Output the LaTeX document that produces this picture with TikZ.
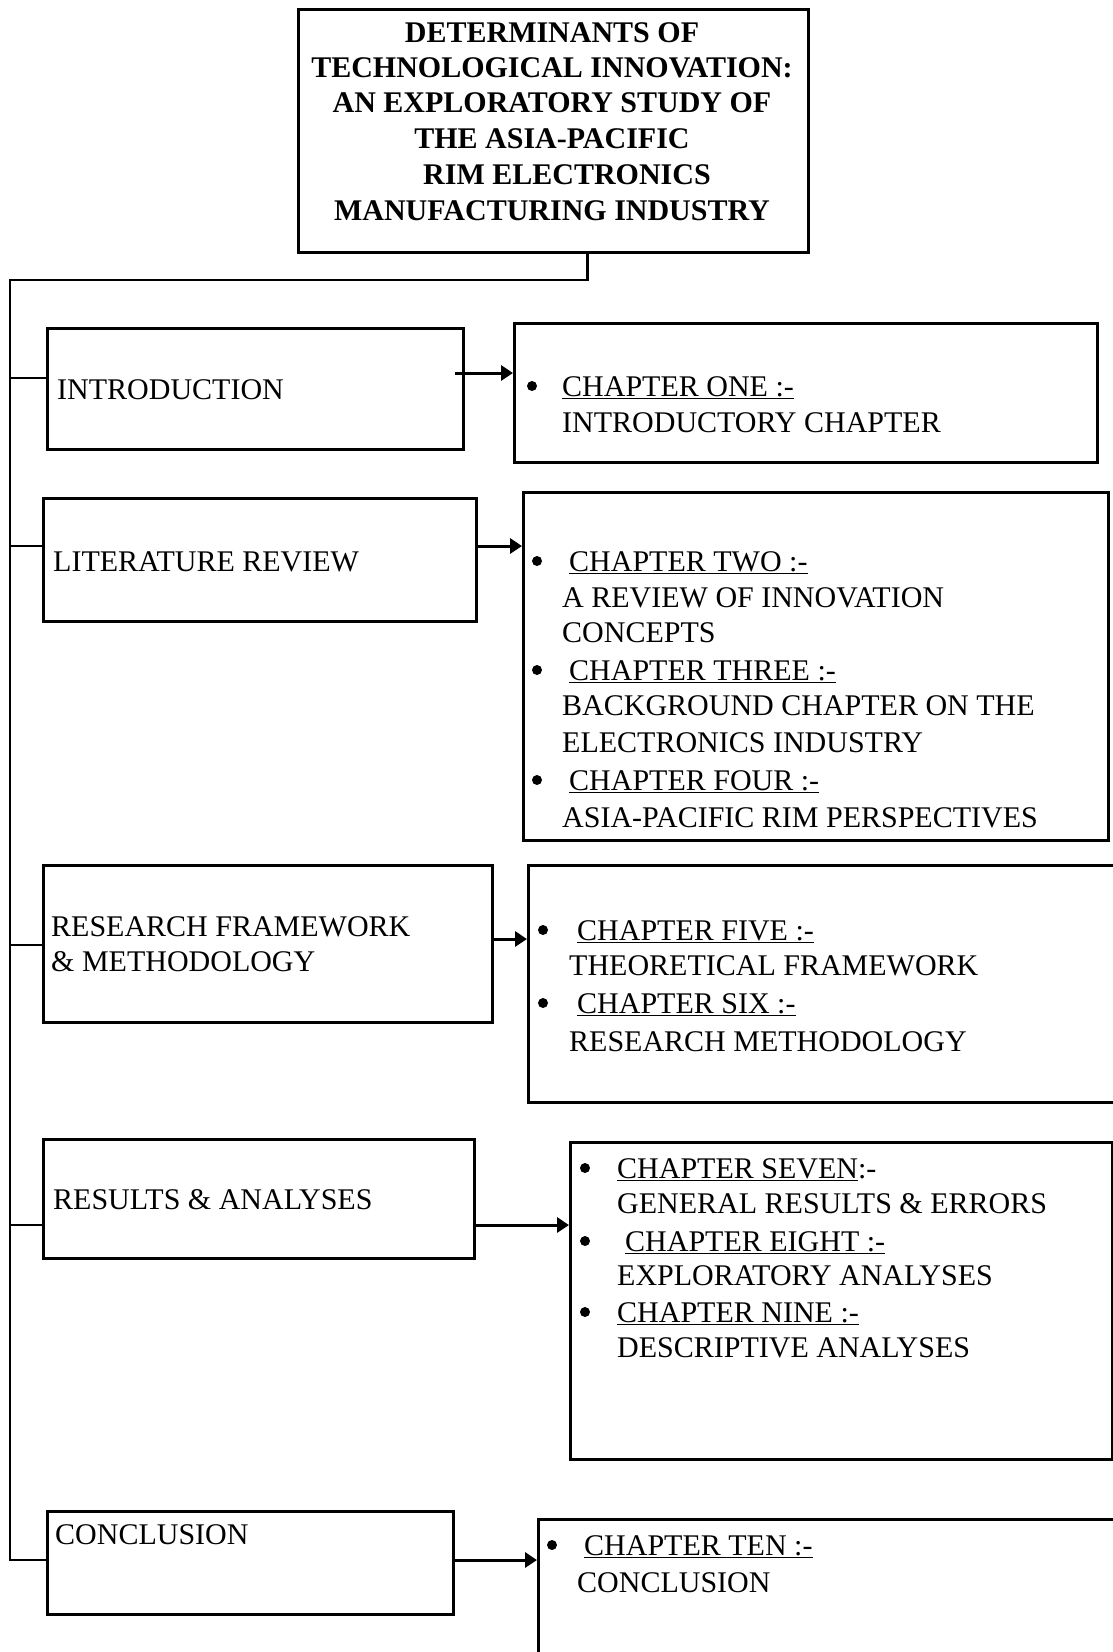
\documentclass[tikz,border=0pt]{standalone}
\usepackage{fontspec}
\setmainfont{Liberation Serif}
\usetikzlibrary{arrows.meta}
\begin{document}
\begin{tikzpicture}[x=1pt,y=-1pt,
  box/.style={draw, line width=3pt, anchor=north west, inner sep=0pt},
  txt/.style={anchor=base west, inner sep=0pt, font=\fontsize{30}{36}\selectfont},
  ttl/.style={anchor=base, inner sep=0pt, font=\fontsize{30}{36}\selectfont\bfseries},
  bul/.style={circle, fill, inner sep=0pt, minimum size=10pt},
  link/.style={line width=2.6pt},
  arr/.style={line width=3pt, -{Triangle[length=12pt,width=15pt]}}]
\useasboundingbox (0,0) rectangle (1113,1652);

% title box and its text
\node[box, minimum width=510pt, minimum height=243pt] (title) at (297,8) {};
\foreach \t/\xx/\yy [count=\i] in {
  DETERMINANTS OF/552/42,
  TECHNOLOGICAL INNOVATION:/552/77,
  AN EXPLORATORY STUDY OF/552/112,
  THE ASIA-PACIFIC/552/148,
  RIM ELECTRONICS/567/184,
  MANUFACTURING INDUSTRY/552/220}
  \node[ttl] (tl\i) at (\xx,\yy) {\t};

% section boxes (left) and chapter boxes (right)
\node[box, minimum width=416pt, minimum height=121pt] (intro) at (46,327) {};
\node[box, minimum width=583pt, minimum height=139pt] (r1) at (513,322) {};
\node[box, minimum width=433pt, minimum height=123pt] (lit) at (42,497) {};
\node[box, minimum width=585pt, minimum height=348pt] (r2) at (522,491) {};
\node[box, minimum width=449pt, minimum height=157pt] (res) at (42,864) {};
\node[box, minimum width=600pt, minimum height=237pt] (r3) at (527,864) {};
\node[box, minimum width=431pt, minimum height=119pt] (rea) at (42,1138) {};
\node[box, minimum width=542pt, minimum height=317pt] (r4) at (569,1141) {};
\node[box, minimum width=406pt, minimum height=103pt] (con) at (46,1510) {};
\node[box, minimum width=590pt, minimum height=150pt] (r5) at (537,1518) {};

% section labels
\node[txt] (s1) at (57,399) {INTRODUCTION};
\node[txt] (s2) at (53,571) {LITERATURE REVIEW};
\node[txt] (s3a) at (51,936) {RESEARCH FRAMEWORK};
\node[txt] (s3b) at (51,971) {\&\ METHODOLOGY};
\node[txt] (s4) at (53,1209) {RESULTS \&\ ANALYSES};
\node[txt] (s5) at (55,1544) {CONCLUSION};

% chapter lists
\foreach \xx/\yy [count=\i] in {532/386, 537/561, 537/670, 537/780,
    543/930, 543/1003, 585/1168, 585/1241, 585/1312, 552/1545}
  \node[bul] (d\i) at (\xx,\yy) {};

\node[txt] (c1a) at (562,396) {\underline{CHAPTER ONE :-}};
\node[txt] (c1b) at (562,432) {INTRODUCTORY CHAPTER};

\node[txt] (c2a) at (569,571) {\underline{CHAPTER TWO :-}};
\node[txt] (c2b) at (562,607) {A REVIEW OF INNOVATION};
\node[txt] (c2c) at (562,642) {CONCEPTS};
\node[txt] (c3a) at (569,680) {\underline{CHAPTER THREE :-}};
\node[txt] (c3b) at (562,715) {BACKGROUND CHAPTER ON THE};
\node[txt] (c3c) at (562,752) {ELECTRONICS INDUSTRY};
\node[txt] (c4a) at (569,790) {\underline{CHAPTER FOUR :-}};
\node[txt] (c4b) at (562,827) {ASIA-PACIFIC RIM PERSPECTIVES};

\node[txt] (c5a) at (577,940) {\underline{CHAPTER FIVE :-}};
\node[txt] (c5b) at (569,975) {THEORETICAL FRAMEWORK};
\node[txt] (c6a) at (577,1013) {\underline{CHAPTER SIX :-}};
\node[txt] (c6b) at (569,1051) {RESEARCH METHODOLOGY};

\node[txt] (c7a) at (617,1178) {\underline{CHAPTER SEVEN}:-};
\node[txt] (c7b) at (617,1213) {GENERAL RESULTS \&\ ERRORS};
\node[txt] (c8a) at (625,1251) {\underline{CHAPTER EIGHT :-}};
\node[txt] (c8b) at (617,1285) {EXPLORATORY ANALYSES};
\node[txt] (c9a) at (617,1322) {\underline{CHAPTER NINE :-}};
\node[txt] (c9b) at (617,1357) {DESCRIPTIVE ANALYSES};

\node[txt] (c10a) at (584,1555) {\underline{CHAPTER TEN :-}};
\node[txt] (c10b) at (577,1592) {CONCLUSION};

% trunk line from the title down the left side
\coordinate (tk) at (10,280);
\coordinate (b1) at (10,378);
\coordinate (b2) at (10,546);
\coordinate (b3) at (10,945);
\coordinate (b4) at (10,1225);
\coordinate (b5) at (10,1560);
\draw[link] ([xshift=34pt]title.south) |- (tk) -- (b5) -- (b5 -| con.west);
\foreach \b/\n in {b1/intro, b2/lit, b3/res, b4/rea}
  \draw[link] (\b) -- (\b -| \n.west);

% arrows from sections to chapters
\coordinate (a1) at (455,373);
\coordinate (a2) at (475,546);
\coordinate (a3) at (491,939);
\coordinate (a4) at (473,1225);
\coordinate (a5) at (452,1560);
\draw[arr] (a1) -- (a1 -| r1.west);
\draw[arr] (a2) -- (a2 -| r2.west);
\draw[arr] (a3) -- (a3 -| r3.west);
\draw[arr] (a4) -- (a4 -| r4.west);
\draw[arr] (a5) -- (a5 -| r5.west);
\end{tikzpicture}
\end{document}
